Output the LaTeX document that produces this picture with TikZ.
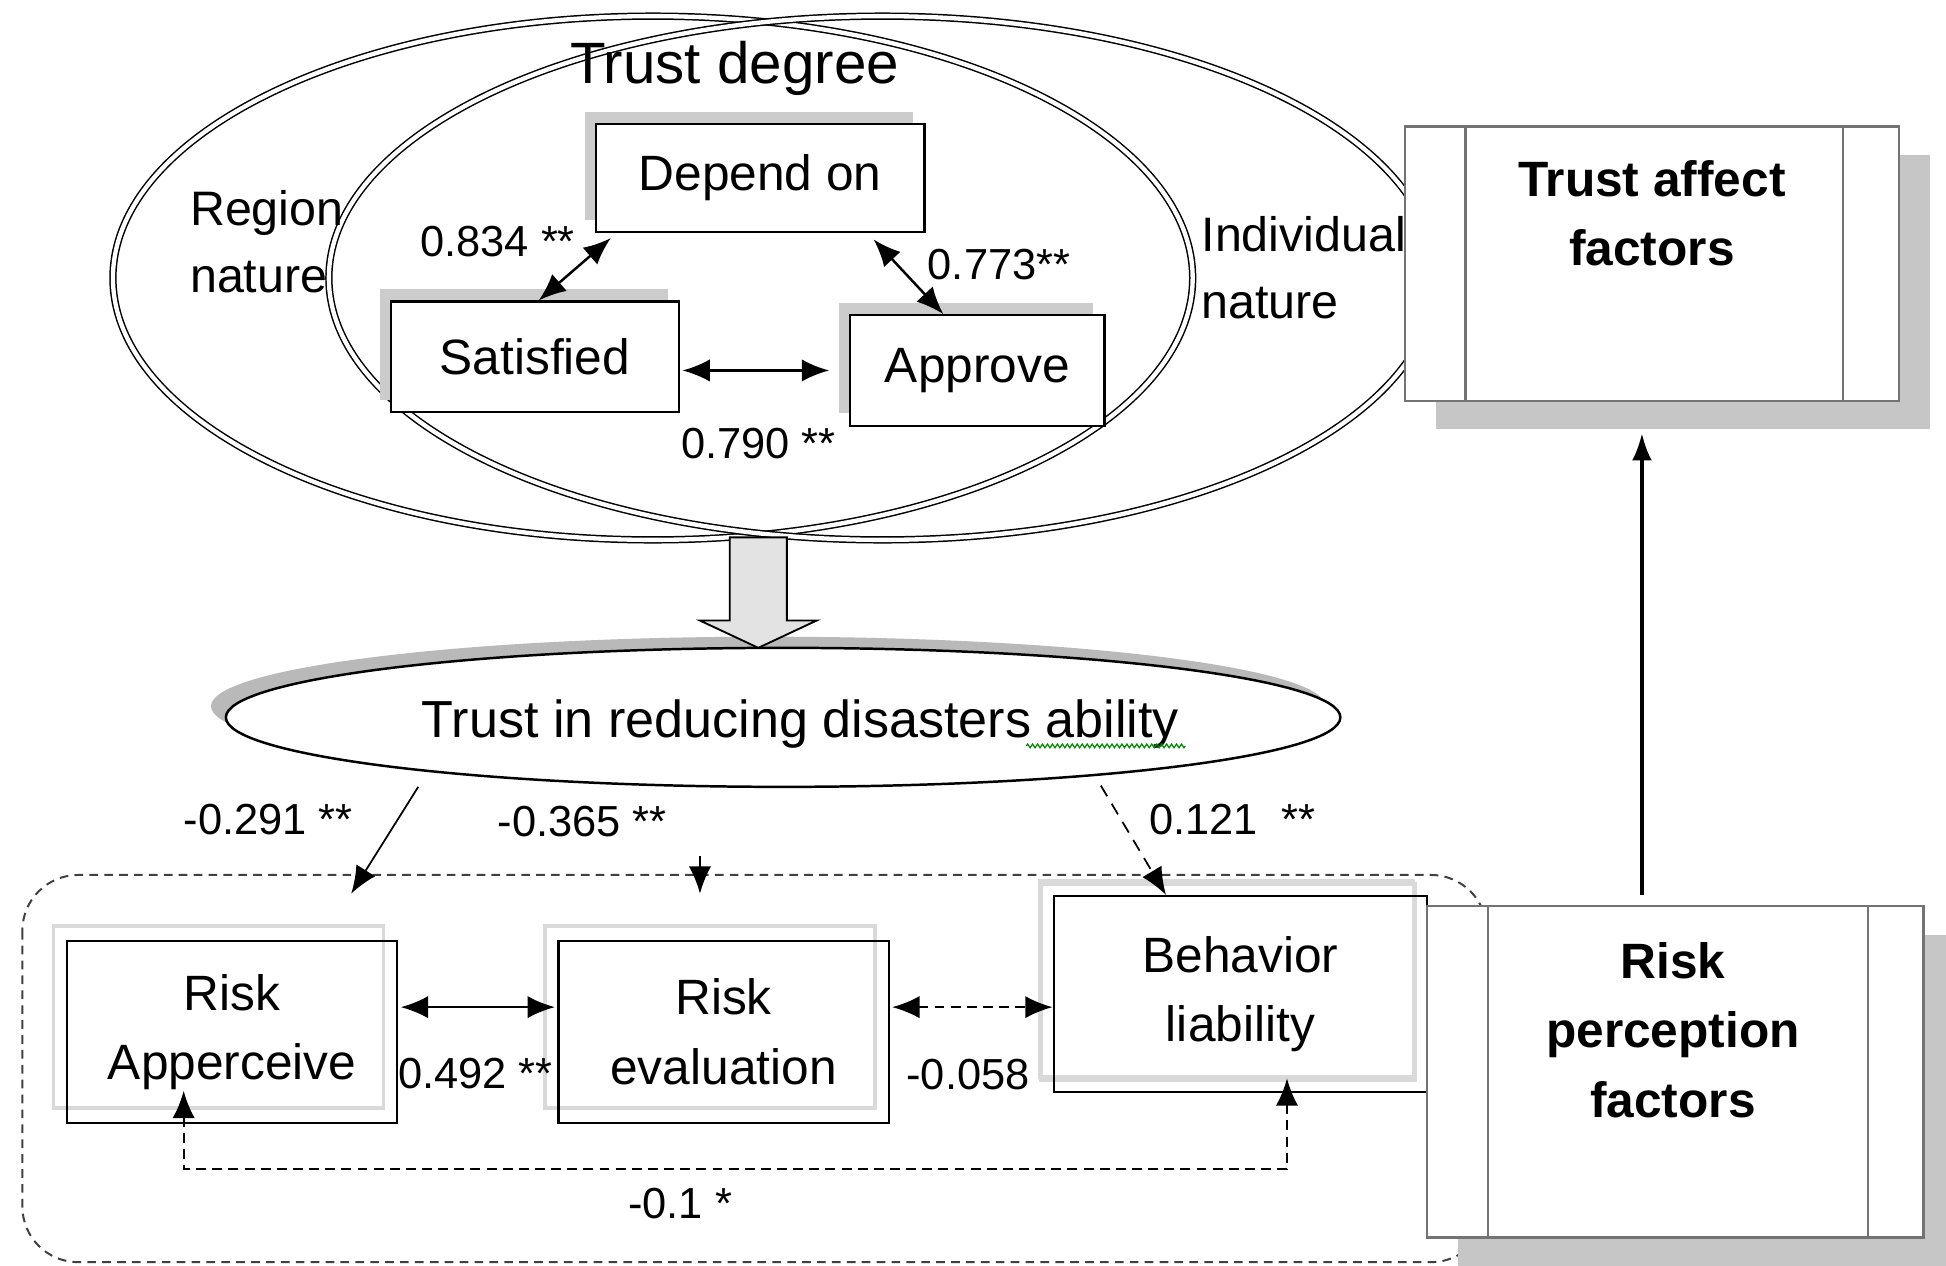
\documentclass[tikz,border=0pt]{standalone}
\usepackage{fontspec}
\setmainfont{Liberation Sans}
\usetikzlibrary{calc}
\usetikzlibrary{arrows.meta}
\usetikzlibrary{shapes.geometric,shadows}
\usetikzlibrary{decorations.pathmorphing}
\tikzset{
	ring/.style={draw=black, line width=1.2pt, double=white, double distance=3.5pt},
	degbox/.style={draw, line width=1.8pt, fill=white, inner sep=0pt,
		font=\fontsize{40}{56}\selectfont,
		drop shadow={shadow xshift=-9pt, shadow yshift=10pt, fill=gray!40, opacity=1}},
	riskbox/.style={draw, line width=1.8pt, inner sep=0pt, align=center,
		font=\fontsize{40}{56}\selectfont,
		general shadow={shadow xshift=-11pt, shadow yshift=12pt, draw=gray!30, line width=3pt}},
	facbox/.style={draw=black!55, line width=2pt, fill=white, inner sep=0pt,
		drop shadow={shadow xshift=25pt, shadow yshift=-23pt, fill=gray!45, opacity=1}},
	factxt/.style={font=\fontsize{40}{56}\selectfont\bfseries, align=center, inner sep=0pt},
	num/.style={font=\fontsize{35}{40}\selectfont, inner sep=0pt},
	twoway/.style={<->, line width=2pt},
	dashway/.style={<->, line width=1.8pt, dash pattern=on 8pt off 5pt},
}
\begin{document}
\begin{tikzpicture}[x=1pt, y=-1pt, >={Latex[length=22pt,width=18pt]}]
	\useasboundingbox (0,0) rectangle (1568,1020);
	% trust degree
	\draw[ring] (526,224) ellipse (435 and 211);
	\draw[ring] (711,224) ellipse (446 and 211);
	\node[font=\fontsize{47}{50}\selectfont, inner sep=0pt] (tdeg) at (592,55) {Trust degree};
	\node[anchor=west, align=left, font=\fontsize{39}{54}\selectfont, inner sep=0pt] (region) at (153,195) {Region\\nature};
	\node[anchor=west, align=left, font=\fontsize{39}{54}\selectfont, inner sep=0pt] (indiv) at (968,216) {Individual\\nature};
	\node[degbox, minimum width=265pt, minimum height=87pt] (dep) at (612.5,143.5) {Depend on};
	\node[degbox, minimum width=232pt, minimum height=89pt] (sat) at (431,287.5) {Satisfied};
	\node[degbox, minimum width=205pt, minimum height=89pt] (app) at (787.5,298.5) {Approve};
	\draw[twoway] ([xshift=13pt,yshift=-4pt]dep.south west) -- ([xshift=120pt]sat.north west);
	\draw[twoway] ([xshift=-42pt,yshift=-5pt]dep.south east) -- ([xshift=76pt]app.north west);
	\draw[twoway] ([xshift=2pt,yshift=-11pt]sat.east) -- ([xshift=-16pt,yshift=-11pt]sat.east -| app.west);
	\node[num] (c834) at (401,195) {0.834 **};
	\node[num] (c773) at (805,213) {0.773**};
	\node[num] (c790) at (611,357) {0.790 **};
	% trust in reducing
	\node[ellipse, draw, line width=2pt, fill=white, minimum width=898pt, minimum height=112pt, inner sep=0pt,
		drop shadow={shadow xshift=-12pt, shadow yshift=9pt, fill=gray!55, opacity=1}] (trust) at (631,578) {};
	\node[font=\fontsize{42}{50}\selectfont, inner sep=0pt] (trusttxt) at (645,583) {Trust in reducing disasters ability};
	\draw[green!55!black, line width=1pt, decorate, decoration={zigzag, amplitude=1.5pt, segment length=4pt}] (827,601) -- (955,601);
	\coordinate (blk) at (611,522);
	\draw[line width=1.5pt, fill=gray!22] (blk) -- ++(-47,-22) -- ++(24,0) -- ++(0,-67) -- ++(46,0) -- ++(0,67) -- ++(24,0) -- cycle;
	% risk perception
	\draw[dash pattern=on 7pt off 5pt, line width=1.6pt, draw=black!75, rounded corners=45pt] (18,705) rectangle (1198,1017);
	\node[riskbox, minimum width=266pt, minimum height=147pt] (ap) at (187,831.5) {Risk\\Apperceive};
	\node[riskbox, minimum width=266pt, minimum height=147pt] (ev) at (583,831.5) {Risk\\evaluation};
	\node[riskbox, minimum width=301pt, minimum height=158pt,
		general shadow={shadow xshift=-10pt, shadow yshift=10pt, draw=gray!30, line width=3pt}] (beh) at (999.5,801) {Behavior\\liability};
	\draw[twoway] ([xshift=2pt,yshift=20pt]ap.east) -- ([xshift=-2pt,yshift=20pt]ev.west);
	\draw[dashway] ([xshift=2pt,yshift=20pt]ev.east) -- ([yshift=20pt]ev.east -| beh.west);
	\draw[dashway] ([xshift=-39pt,yshift=27pt]ap.south) -- ++(0,63) -| ([xshift=37.5pt,yshift=12pt]beh.south);
	\node[num] (c492) at (383,865) {0.492 **};
	\node[num] (c058) at (780,866) {-0.058};
	\node[num] (c01) at (548,970) {-0.1 *};
	\coordinate (t1) at (337,634);
	\coordinate (t2) at (564,690);
	\coordinate (t3) at (887,633);
	\coordinate (a1) at (283,720);
	\coordinate (a2) at (564,720);
	\draw[->, line width=1.4pt] (t1) -- (a1);
	\draw[->, line width=1.4pt] (t2) -- (a2);
	\draw[->, line width=1.4pt, dash pattern=on 10pt off 7pt] (t3) -- ([xshift=-60pt]beh.north);
	\node[num] (c291) at (216,660) {-0.291 **};
	\node[num] (c365) at (469,662) {-0.365 **};
	\node[num] (c121) at (993,660) {0.121~ **};
	% factor boxes
	\node[facbox, minimum width=398pt, minimum height=221pt] (taf) at (1331,212.5) {};
	\draw[black!55, line width=2pt] ([xshift=50pt]taf.north west) -- ([xshift=50pt]taf.south west);
	\draw[black!55, line width=2pt] ([xshift=-46pt]taf.north east) -- ([xshift=-46pt]taf.south east);
	\node[factxt] (taftxt) at (1331,172) {Trust affect\\factors};
	\node[facbox, minimum width=400pt, minimum height=267pt] (rpf) at (1350,863.5) {};
	\draw[black!55, line width=2pt] ([xshift=50pt]rpf.north west) -- ([xshift=50pt]rpf.south west);
	\draw[black!55, line width=2pt] ([xshift=-46pt]rpf.north east) -- ([xshift=-46pt]rpf.south east);
	\node[factxt] (rpftxt) at (1348,830) {Risk\\perception\\factors};
	\draw[-{Latex[length=22pt,width=16pt]}, line width=3pt] ([xshift=-27pt,yshift=8pt]rpf.north) -- ([xshift=-8pt,yshift=-25pt]taf.south);
\end{tikzpicture}
\end{document}
